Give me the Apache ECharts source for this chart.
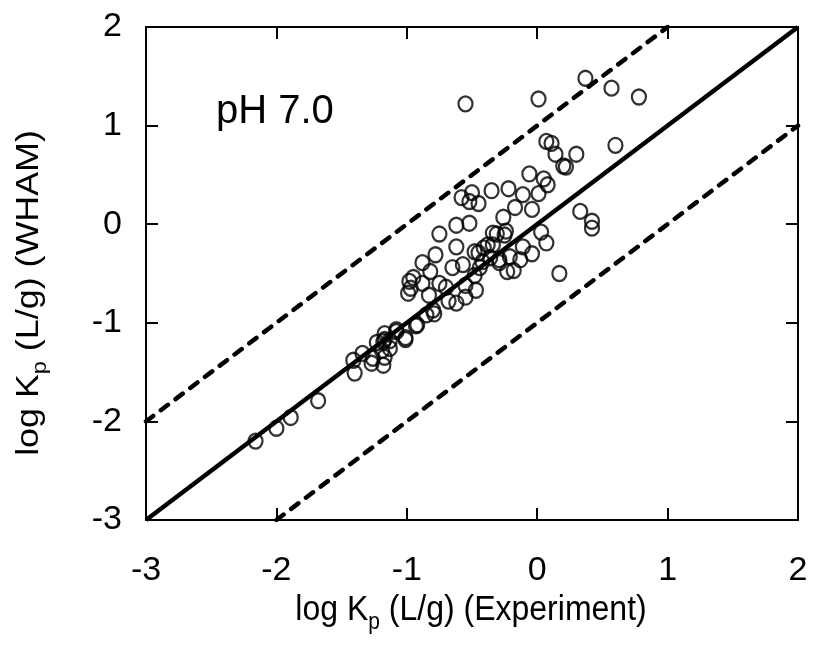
<!DOCTYPE html>
<html><head><meta charset="utf-8">
<script src="https://cdn.jsdelivr.net/npm/echarts@6/dist/echarts.min.js"></script>
<style>html,body{margin:0;padding:0;background:#fff}#c{width:815px;height:651px}</style>
</head><body><div id="c"></div>
<script>
// Data (log Kp experiment vs WHAM)
var expX = [-0.55,0.01,0.37,0.57,0.78,0.60,0.07,0.11,0.14,0.30,0.20,0.22,-0.06,0.05,0.08,0.01,0.33,0.42,0.42,
  -0.22,-0.35,-0.11,-0.17,-0.04,-0.26,-0.50,-0.58,-0.52,-0.45,-0.62,-0.52,-0.75,-0.34,-0.31,-0.24,-0.25,0.03,
  0.07,-0.62,-0.78,-0.88,-0.82,-0.98,-0.95,-0.97,-0.99,-0.88,-0.75,-0.70,-0.83,-0.68,-0.62,-0.80,-0.79,
  -0.65,-0.57,-0.55,-0.47,-0.55,-0.48,-0.45,-0.41,-0.38,-0.34,-0.42,-0.44,-0.48,-0.36,-0.29,-0.21,-0.13,-0.11,
  -0.04,-0.29,-0.23,-0.18,0.17,-1.08,-1.01,-0.93,-1.17,-1.13,-1.18,-1.17,
  -2.16,-2.00,-1.89,-1.68,-1.40,-1.41,-1.34,-1.27,-1.26,-1.18,-1.23,-1.19,-1.13,-1.17,-1.08,-1.01,-0.92,-0.85];
var whamY = [1.22,1.27,1.48,1.38,1.29,0.80,0.84,0.82,0.71,0.71,0.59,0.58,0.51,0.46,0.40,0.31,0.13,0.03,-0.04,
  0.36,0.34,0.30,0.17,0.15,0.07,0.32,0.27,0.23,0.21,-0.01,0.01,-0.10,-0.09,-0.10,-0.07,-0.11,-0.08,
  -0.19,-0.23,-0.31,-0.39,-0.48,-0.58,-0.54,-0.65,-0.70,-0.60,-0.60,-0.64,-0.72,-0.78,-0.80,-0.87,-0.91,
  -0.44,-0.41,-0.62,-0.67,-0.74,-0.28,-0.29,-0.24,-0.21,-0.21,-0.38,-0.44,-0.52,-0.34,-0.36,-0.33,-0.36,-0.23,
  -0.30,-0.39,-0.48,-0.47,-0.50,-1.07,-1.15,-1.03,-1.11,-1.18,-1.19,-1.35,
  -2.20,-2.07,-1.96,-1.79,-1.51,-1.38,-1.31,-1.41,-1.36,-1.43,-1.20,-1.28,-1.26,-1.17,-1.09,-1.17,-1.02,-0.92];
var lineX = [-3, 2];
var oneToOne = [-3, 2];
var upperX = [-3, 1];
var upperY = [-2, 2];
var lowerX = [-2, 2];
var lowerY = [-3, 1];
var annotation = 'pH 7.0';
var xTitle = ['log K', 'p', ' (L/g) (Experiment)'];
var yTitle = ['log K', 'p', ' (L/g) (WHAM)'];

function pairs(a, b) { return a.map(function (v, i) { return [v, b[i]]; }); }
function richTitle(parts) { return '{a|' + parts[0] + '}{s|' + parts[1] + '}{a|' + parts[2] + '}'; }

var font = 'Liberation Sans, Arial, sans-serif';
var titleRich = {
  a: { fontSize: 32, fontFamily: font, fill: '#000', color: '#000' },
  s: { fontSize: 21, fontFamily: font, fill: '#000', color: '#000', padding: [22, 0, 0, 0] }
};
var axisCommon = {
  type: 'value', min: -3, max: 2, interval: 1,
  axisLine: { show: true, onZero: false, lineStyle: { color: '#000', width: 2 } },
  axisTick: { show: true, inside: true, length: 12, lineStyle: { color: '#000', width: 2 } },
  splitLine: { show: false }
};
var chart = echarts.init(document.getElementById('c'), null, { renderer: 'canvas' });
chart.setOption({
  animation: false,
  backgroundColor: '#fff',
  grid: { left: 146, top: 27, right: 17, bottom: 131, containLabel: false },
  xAxis: [
    Object.assign({}, axisCommon, {
      position: 'bottom',
      axisLabel: { color: '#000', fontSize: 34, fontFamily: font, margin: 34 }
    }),
    Object.assign({}, axisCommon, { position: 'top', axisLabel: { show: false } })
  ],
  yAxis: [
    Object.assign({}, axisCommon, {
      position: 'left',
      axisLabel: { color: '#000', fontSize: 34, fontFamily: font, margin: 24 }
    }),
    Object.assign({}, axisCommon, { position: 'right', axisLabel: { show: false } })
  ],
  series: [
    { type: 'line', data: pairs(lineX, oneToOne), symbol: 'none', lineStyle: { color: '#000', width: 4.5 }, z: 3 },
    { type: 'line', data: pairs(upperX, upperY), symbol: 'none', lineStyle: { color: '#000', width: 4.5, type: [9, 9.5], cap: 'round' }, z: 3 },
    { type: 'line', data: pairs(lowerX, lowerY), symbol: 'none', lineStyle: { color: '#000', width: 4.5, type: [9, 9.5], cap: 'round' }, z: 3 },
    { type: 'scatter', data: pairs(expX, whamY), symbol: 'circle', symbolSize: [14, 15],
      itemStyle: { color: 'rgba(255,255,255,0)', borderColor: '#000', borderWidth: 2.3 }, z: 4 }
  ],
  graphic: [
    { type: 'text', x: 216, y: 112,
      style: { text: annotation, fontSize: 40, fontFamily: font, fill: '#000', align: 'left', verticalAlign: 'middle' } },
    { type: 'text', x: 471, y: 610, scaleY: 1.12,
      style: { text: richTitle(xTitle), rich: titleRich, fill: '#000', align: 'center', verticalAlign: 'middle' } },
    { type: 'text', x: 29, y: 293, rotation: Math.PI / 2, scaleX: 1.12,
      style: { text: richTitle(yTitle), rich: titleRich, fill: '#000', align: 'center', verticalAlign: 'middle' } }
  ]
});
</script></body></html>
